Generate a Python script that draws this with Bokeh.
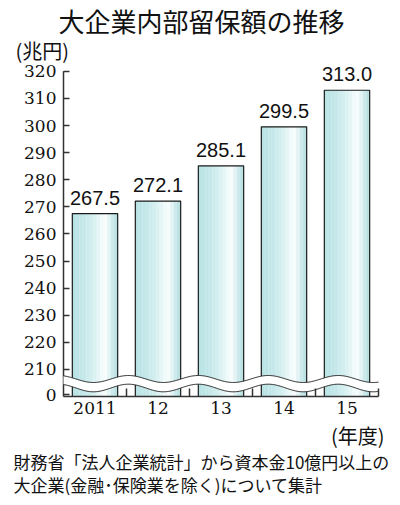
from bokeh.plotting import figure
from bokeh.models import Range1d, FixedTicker, Label
from bokeh.core.properties import value
from bokeh.embed import file_html
from bokeh.resources import INLINE
import numpy as np

# ---- data ----
years = ["2011", "12", "13", "14", "15"]
values = [267.5, 272.1, 285.1, 299.5, 313.0]
y_ticks = [210, 220, 230, 240, 250, 260, 270, 280, 290, 300, 310, 320]
zero_label = "0"
title_text = "大企業内部留保額の推移"
unit_text = "(兆円)"
xunit_text = "(年度)"
note1 = "財務省「法人企業統計」から資本金10億円以上の"
note2 = "大企業(金融･保険業を除く)について集計"

# ---- layout (axis-break scale): frame fills whole canvas ----
W, H = 400, 505
AX_X, AX_Y = 63, 396          # canvas px of the axes corner
SX, SY = 63.0, 2.71           # px per category / px per unit
Y0 = 200.0                    # axis bottom value on compressed scale
ZERO_POS = 200.7              # where "0" is printed

def dx(px):
    return (px - AX_X) / SX

def dy(py):
    return Y0 + (AX_Y - py) / SY

p = figure(width=W, height=H, x_range=Range1d(dx(0), dx(W)), y_range=Range1d(dy(H), dy(0)),
           min_border=0, output_backend="svg", toolbar_location=None)
p.outline_line_color = None
p.xgrid.visible = False
p.ygrid.visible = False
p.background_fill_color = "white"
p.border_fill_color = "white"

xs = [i + 0.5 for i in range(len(years))]
bw = 0.72

# gradient bars built from strips
grad = ["#b9e2e4", "#bde4e6", "#c1e6e8", "#c6e8ea", "#cbebec", "#d2eeef", "#dbf2f3",
        "#e6f6f6", "#f1fafa", "#f6fcfc", "#e4f4f5", "#cce9eb", "#bbe1e3"]
n = len(grad)
sw = bw / n
for k, c in enumerate(grad):
    off = -bw / 2 + sw * (k + 0.5)
    p.vbar(x=[x + off for x in xs], top=values, bottom=Y0, width=sw * 1.03,
           fill_color=c, line_color=None)
p.vbar(x=xs, top=values, bottom=Y0, width=bw, fill_color=None,
       line_color="#1a1a1a", line_width=1.2)

# value labels
p.text(x=xs, y=values, text=[f"{v:.1f}" for v in values], text_align="center",
       text_baseline="bottom", y_offset=-9, text_font=value("Liberation Sans"),
       text_font_size="20px", text_color="#111111")

# y axis line (drawn by hand so the break can cut through it)
p.segment(x0=[0], y0=[Y0], x1=[0], y1=[max(y_ticks)], line_color="#333333", line_width=1.5)

# axis break band
wx = np.linspace(0, len(years), 400)
ph = np.cos(2 * np.pi * (wx - 0.476) / 1.11)
upper = dy(378.5) - (3.5 / SY) * ph
lower = dy(387.5) - (3.8 / SY) * ph
p.patch(x=np.concatenate([wx, wx[::-1]]), y=np.concatenate([upper, lower[::-1]]),
        fill_color="white", line_color=None)
p.line(x=wx, y=upper, line_color="#222222", line_width=1)
p.line(x=wx, y=lower, line_color="#222222", line_width=1)

# y axis (inside the frame at x = 0)
ya = p.yaxis[0]
ya.fixed_location = 0
ya.bounds = (Y0, max(y_ticks))
ya.ticker = FixedTicker(ticks=[ZERO_POS] + y_ticks)
ya.major_label_overrides = {**{ZERO_POS: zero_label}, **{t: str(t) for t in y_ticks}}
ya.axis_line_color = None
ya.major_tick_in = 6
ya.major_tick_out = 0
ya.major_tick_line_color = "#333333"
ya.major_tick_line_width = 1.5
ya.minor_tick_line_color = None
ya.major_label_standoff = 7
ya.major_label_text_font = "DejaVu Serif"
ya.major_label_text_font_size = "17px"
ya.major_label_text_color = "#111111"

# x axis (inside the frame at y = Y0)
xa = p.xaxis[0]
xa.fixed_location = Y0
xa.bounds = (0, len(years))
xa.ticker = FixedTicker(ticks=xs, minor_ticks=list(range(1, len(years) + 1)))
xa.major_label_overrides = {x: y for x, y in zip(xs, years)}
xa.axis_line_color = "#333333"
xa.axis_line_width = 1.5
xa.major_tick_in = 0
xa.major_tick_out = 0
xa.minor_tick_in = 8
xa.minor_tick_out = 0
xa.minor_tick_line_color = "#333333"
xa.minor_tick_line_width = 1.5
xa.major_label_standoff = 5
xa.major_label_text_font = "DejaVu Serif"
xa.major_label_text_font_size = "17px"
xa.major_label_text_color = "#111111"

# texts
cjk = "Noto Sans CJK JP"
p.add_layout(Label(x=dx(201), y=dy(20), text=title_text, text_align="center",
                   text_baseline="middle", text_font=cjk, text_font_size="26px",
                   text_color="#111111"))
p.add_layout(Label(x=dx(15), y=dy(50), text=unit_text, text_align="left",
                   text_baseline="middle", text_font=cjk, text_font_size="20px",
                   text_color="#111111"))
p.add_layout(Label(x=dx(384), y=dy(435), text=xunit_text, text_align="right",
                   text_baseline="middle", text_font=cjk, text_font_size="20px",
                   text_color="#111111"))
p.add_layout(Label(x=dx(13), y=dy(461), text=note1, text_align="left",
                   text_baseline="middle", text_font=cjk, text_font_size="17px",
                   text_color="#111111"))
p.add_layout(Label(x=dx(13), y=dy(484), text=note2, text_align="left",
                   text_baseline="middle", text_font=cjk, text_font_size="17px",
                   text_color="#111111"))

open("out.html", "w").write(file_html(p, INLINE))
